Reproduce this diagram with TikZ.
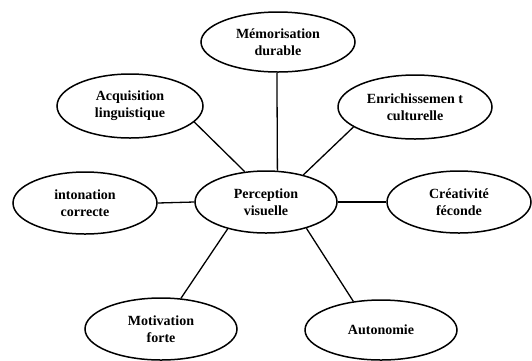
\documentclass[tikz,border=0pt]{standalone}
\usepackage{fontspec}
\setmainfont{Liberation Serif}
\usetikzlibrary{shapes.geometric}
\begin{document}
\begin{tikzpicture}[x=1pt,y=-1pt,
  bubble/.style={ellipse,draw,line width=1.5pt,inner sep=0pt,align=center,
    font=\fontsize{14}{17}\selectfont\bfseries},
  link/.style={line width=1.3pt}]
\useasboundingbox[fill=white] (0,0) rectangle (532,360);
\node[bubble,minimum width=154pt,minimum height=60pt] (mem) at (278,42) {Mémorisation\\durable};
\node[bubble,minimum width=146pt,minimum height=64pt] (acq) at (130,106) {Acquisition\\linguistique};
\node[bubble,minimum width=154pt,minimum height=64pt] (enr) at (415,107) {Enrichissemen t\\culturelle};
\node[bubble,minimum width=142pt,minimum height=62pt] (per) at (266,202) {Perception\\visuelle};
\node[bubble,minimum width=144pt,minimum height=62pt] (int) at (85,203) {intonation\\correcte};
\node[bubble,minimum width=144pt,minimum height=62pt] (cre) at (459,202) {Créativité\\féconde};
\node[bubble,minimum width=152pt,minimum height=62pt] (mot) at (161,329) {Motivation\\forte};
\node[bubble,minimum width=152pt,minimum height=60pt] (aut) at (381,330) {Autonomie};
\draw[link] (mem.-92) -- (per.70);
\draw[link] (acq.-14) -- (per.125);
\draw[link] (enr.-162) -- (per.36);
\draw[link] (int.0) -- (per.180);
\draw[link] (per.0) -- (cre.180);
\draw[link] (per.-145) -- (mot.57);
\draw[link] (per.-33) -- (aut.134);
\end{tikzpicture}
\end{document}
